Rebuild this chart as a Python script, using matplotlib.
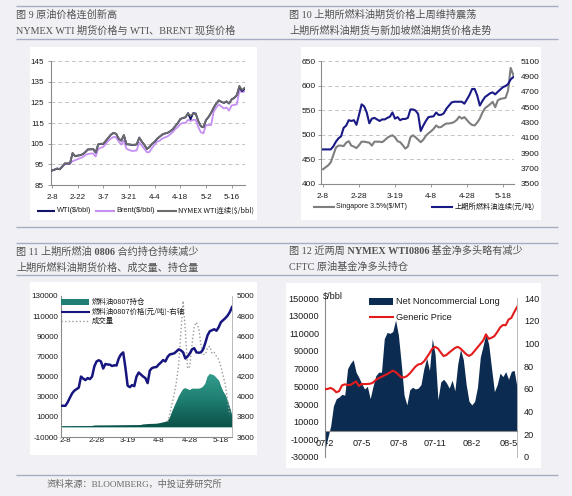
import numpy as np
import matplotlib
matplotlib.use('Agg')
import matplotlib.pyplot as plt
from matplotlib.colors import LinearSegmentedColormap
from matplotlib.patches import Rectangle

# ---------------- data ----------------
# Fig 9: crude prices (USD/bbl), trading days 2-8 .. late May
dates1 = ['2-8', '2-22', '3-7', '3-21', '4-4', '4-18', '5-2', '5-16']
names1 = ['WTI($/bbl)', 'Brent($/bbl)', 'NYMEX WTI连续($/bbl)']
nymex = [92, 92.5, 93, 92.7, 94, 95.5, 95.5, 95.5, 100.5, 99,
         99.3, 99.5, 100, 101, 102.3, 102.3, 102.5, 100.8, 104.7, 105,
         105, 106.5, 108, 109.5, 110.3, 109.8, 107.5, 106.5, 109.2, 104.8,
         104.7, 104.5, 104.5, 104.7, 108, 106, 104.5, 102.5, 103.5, 105,
         106, 107.5, 108.5, 109.5, 110, 110.3, 111, 112, 113.5, 115,
         117, 117.5, 117.8, 119.5, 118.5, 119.5, 119.3, 116, 113.5, 113,
         116.5, 118, 120, 122.5, 124.5, 126, 125.3, 124.8, 125.5, 124.5,
         126.5, 127.2, 128.5, 133, 131, 132]
wti = [92, 92.4, 92.9, 92.6, 93.9, 95.4, 95.4, 95.4, 100.4, 98.9,
       99.2, 99.4, 99.9, 100.9, 102.2, 102.2, 102.4, 100.7, 104.6, 104.9,
       104.9, 106.4, 107.9, 109.4, 110.2, 109.7, 107.4, 106.4, 109.1, 104.7,
       104.6, 104.4, 104.4, 104.6, 107.9, 105.9, 104.4, 102.4, 103.4, 104.9,
       105.9, 107.4, 108.4, 109.4, 109.9, 110.2, 110.9, 111.9, 113.4, 114.9,
       116.9, 117.4, 117.7, 119.8, 116.8, 119.8, 119.6, 115.9, 113.4, 112.9,
       116.4, 117.9, 119.9, 122.4, 124.4, 125.9, 125.2, 124.7, 125.4, 124.4,
       126.4, 127.1, 128.4, 132.4, 130.4, 131.4]
brent = [92, 92.5, 93, 92.7, 94, 95, 95.3, 95.3, 96.5, 97,
         97.5, 98, 98.5, 99.5, 100, 100.2, 100.3, 98.8, 102.5, 103,
         103.5, 105, 106.5, 107.5, 108.3, 108, 106, 104.5, 106.5, 102.5,
         102, 101.5, 101.5, 101.8, 105.5, 104, 102.5, 100.8, 101, 103,
         104.5, 106, 106.5, 107.5, 108, 108.5, 109.5, 110.5, 112, 113,
         114.5, 115, 115, 116.5, 116, 116.5, 116.5, 113, 110.5, 110,
         114, 114, 114, 120.5, 122.5, 124, 123, 122, 122.5, 121,
         123.5, 123.8, 124, 130.5, 130, 130.2]

# Fig 10: Singapore 3.5% (USD/MT, left) and SHFE fuel oil (CNY/t, right)
dates2 = ['2-8', '2-28', '3-19', '4-8', '4-28', '5-18']
names2 = ['Singapore 3.5%($/MT)', '上期所燃料油连续(元/吨)']
sing = [430, 434, 438, 444, 459, 474, 478, 478, 477, 484,
        487, 478, 476, 473, 479, 486, 486, 485, 484, 478,
        486, 486, 486, 485, 489, 494, 497, 499, 495, 487,
        485, 479, 472, 476, 495, 499, 495, 490, 485, 490,
        498, 503, 507, 512, 519, 515, 516, 520, 523, 523,
        524, 526, 530, 537, 533, 536, 530, 524, 520, 519,
        525, 533, 545, 554, 558, 562, 567, 556, 570, 573,
        574, 575, 590, 636, 622]
shfe = [3950, 3950, 3950, 3950, 3990, 4050, 4094, 4120, 4230, 4260,
        4330, 4320, 4330, 4270, 4400, 4536, 4510, 4430, 4290, 4350,
        4360, 4340, 4320, 4340, 4340, 4360, 4375, 4430, 4350, 4370,
        4330, 4346, 4346, 4360, 4470, 4470, 4455, 4410, 4190, 4260,
        4320, 4370, 4376, 4380, 4430, 4398, 4400, 4420, 4480, 4520,
        4560, 4570, 4570, 4570, 4570, 4545, 4600, 4660, 4736, 4736,
        4650, 4520, 4580, 4630, 4655, 4680, 4692, 4666, 4700, 4730,
        4760, 4775, 4800, 4860, 4890]

# Fig 11: SHFE fuel oil 0807 open interest, price (right axis), volume
dates3 = ['2-8', '2-28', '3-19', '4-8', '4-28', '5-18']
names3 = ['燃料油0807持仓', '燃料油0807价格(元/吨)-右轴', '成交量']
oi = [700, 750, 800, 800, 800, 800, 850, 850, 850, 850,
      900, 900, 900, 900, 950, 1400, 1450, 1500, 1500, 1500,
      1500, 1500, 1550, 1550, 1600, 1600, 1600, 1650, 1650, 1700,
      1700, 1750, 1750, 1800, 1800, 1850, 1900, 2500, 2600, 2800,
      3000, 3000, 3100, 3200, 3500, 4000, 4500, 5000, 6000, 9000,
      15000, 20000, 25000, 30000, 34000, 37500, 38500, 37500, 36500, 38000,
      38000, 38000, 38000, 38500, 40000, 43000, 50000, 52500, 52000, 51000,
      48500, 46000, 40000, 35000, 31700, 26000, 19000, 11000]
price3 = [3910, 3910, 3910, 3945, 3990, 4033, 4060, 4075, 4090, 4200,
          4180, 4165, 4185, 4175, 4200, 4300, 4350, 4362, 4350, 4280,
          4325, 4320, 4318, 4305, 4312, 4310, 4380, 4420, 4440, 4290,
          4110, 4095, 4115, 4105, 4200, 4240, 4220, 4200, 4185, 4135,
          4260, 4285, 4292, 4295, 4320, 4340, 4364, 4350, 4395, 4420,
          4425, 4431, 4450, 4470, 4460, 4440, 4380, 4400, 4430, 4470,
          4482, 4440, 4437, 4440, 4470, 4535, 4610, 4650, 4660, 4670,
          4655, 4690, 4740, 4760, 4780, 4805, 4840, 4890]
nan = float('nan')
vol = [nan, nan, nan, nan, nan, nan, nan, nan, nan, nan,
       nan, nan, nan, nan, nan, nan, nan, nan, nan, nan,
       nan, nan, nan, nan, nan, nan, nan, nan, nan, nan,
       nan, nan, nan, nan, nan, nan, nan, nan, nan, nan,
       nan, nan, nan, nan, nan, nan, nan, nan, 5000, 13000,
       23000, 33000, 45000, 62000, 95000, 125000, 95000, 58000, 60000, 82000,
       100000, 104000, 98000, 82000, 72000, 72000, 79000, 80000, 73000, 74000,
       70000, 67000, 60000, 51000, 42000, 26000, 12000, nan]

# Fig 12: CFTC net non-commercial long (left) and generic price (right)
dates4 = ['07-2', '07-5', '07-8', '07-11', '08-2', '08-5']
names4 = ['Net Noncommercial Long', 'Generic Price']
net = [-22000, -8000, 5000, 28000, 36000, 38000, 41000, 40000, 70000, 76000,
       80000, 66000, 60000, 53000, 47000, 50000, 36000, 50000, 62000, 66000,
       66000, 104000, 111000, 110000, 112000, 125000, 108000, 76000, 40000, 29000,
       46000, 49000, 47000, 48000, 52000, 70000, 82000, 68000, 104000, 86000,
       35000, 55000, 58000, 54000, 48000, 57000, 45000, 75000, 92000, 80000,
       52000, 33000, 29000, 33000, 49000, 83000, 96000, 110000, 97000, 70000,
       44000, 52000, 65000, 61000, 66600, 58000, 67000, 68000, 49000]
price4 = [59.6, 60, 60.8, 59.5, 57, 58, 63, 64, 63.4, 63.4,
          65, 66.5, 62.5, 64.3, 64.2, 64.3, 64.5, 65.5, 67.8, 69.5,
          70.5, 71.8, 73, 74.5, 76, 74.8, 72.5, 70.2, 70.1, 71.2,
          73.5, 76.5, 79.5, 81.5, 81.9, 84, 87.5, 91.3, 95.5, 97,
          95.5, 92, 88.9, 89.8, 92, 94, 96, 97, 95.5, 93,
          90.5, 89, 90.5, 93.5, 96.5, 99.5, 102.5, 108, 104, 105,
          106.5, 110, 114, 116.2, 116, 121, 122.5, 127.5, 132]

titles = [
    [('图 9 原油价格连创新高', 'normal')],
    [('图 10 上期所燃料油期货价格上周维持震荡', 'normal')],
    [('图 11 上期所燃油', 'normal'), (' 0806', 'bold'), (' 合约持仓持续减少', 'normal')],
    [('图 12 近两周', 'normal'), (' NYMEX WTI0806', 'bold'), (' 基金净多头略有减少', 'normal')],
]
subtitles = ['NYMEX WTI 期货价格与 WTI、BRENT 现货价格',
             '上期所燃料油期货与新加坡燃油期货价格走势',
             '上期所燃料油期货价格、成交量、持仓量',
             'CFTC 原油基金净多头持仓']
source = '资料来源：BLOOMBERG，中投证券研究所'

# ---------------- figure ----------------
W, H = 572, 496
fig = plt.figure(figsize=(W / 100, H / 100), dpi=100)
BG = '#f1f1f5'
fig.patch.set_facecolor(BG)

SANS = ['Liberation Sans', 'Noto Sans CJK SC', 'DejaVu Sans']
SERIF = ['Liberation Serif', 'Noto Sans CJK SC', 'DejaVu Sans']
CJK = ['Noto Sans CJK SC', 'DejaVu Sans']
plt.rcParams['font.family'] = SANS
plt.rcParams['axes.unicode_minus'] = False
TXT = '#1a1a1a'
SPINE = '#8a8a8a'


def pxax(l, t, r, b, **kw):
    return fig.add_axes([l / W, 1 - b / H, (r - l) / W, (b - t) / H], **kw)


bg = pxax(0, 0, W, H, zorder=-5)
bg.set_xlim(0, W); bg.set_ylim(H, 0); bg.axis('off')
ov = pxax(0, 0, W, H, zorder=10)
ov.set_xlim(0, W); ov.set_ylim(H, 0); ov.axis('off')

# white chart panels
for (l, t, r, b) in [(30, 47, 257, 220), (301, 47, 541, 220),
                     (30, 282, 257, 455), (286, 283, 541, 468)]:
    bg.add_patch(Rectangle((l, t), r - l, b - t, fc='white', ec='none'))
# separator lines
for y in [6, 39, 227, 243, 275, 475]:
    bg.plot([16, 558], [y, y], color='#a7abc4', lw=1.0, solid_capstyle='butt')


def rich(x, y, parts, size=7.3, color='#505050'):
    t = bg.text(x, y, parts[0][0], fontsize=size, color=color, fontweight=parts[0][1],
                family=SERIF, va='center', ha='left')
    for s, w in parts[1:]:
        t = bg.annotate(s, xy=(1, 0), xycoords=t, va='bottom', ha='left', fontsize=size,
                        color=color, fontweight=w, family=SERIF)


for (x, y), parts in zip([(16, 15), (289, 15), (16, 252), (289, 251)], titles):
    rich(x, y, parts)
for (x, y), s in zip([(16, 31), (289, 31), (16, 268), (289, 267)], subtitles):
    rich(x, y, [(s, 'normal')])
bg.text(47, 484, source, fontsize=6.6, color='#666666', family=SERIF, va='center', ha='left')


def style(ax, size):
    for s in ['top', 'right']:
        ax.spines[s].set_visible(False)
    for s in ['left', 'bottom']:
        ax.spines[s].set_color(SPINE)
        ax.spines[s].set_linewidth(0.8)
    ax.tick_params(colors=SPINE, labelcolor=TXT, labelsize=size, width=0.6)
    ax.set_facecolor('none')


def leg_line(x0, x1, y, label, size, **kw):
    ov.plot([x0, x1], [y, y], solid_capstyle='butt', **kw)
    ov.text(x1 + 1.5, y, label, fontsize=size, color=TXT, va='center', ha='left',
            family=SANS if label.isascii() else CJK)


# ---- Panel 1 ----
a1 = pxax(51, 61, 245, 185)
style(a1, 5.8)
x1 = np.arange(len(nymex))
C_WTI, C_BR, C_NY = '#121266', '#c690f2', '#6c6c6c'
a1.plot(x1, wti, color=C_WTI, lw=1.3, zorder=3)
a1.plot(x1, brent, color=C_BR, lw=1.3, zorder=2)
a1.plot(x1, nymex, color=C_NY, lw=1.3, zorder=4)
a1.set_ylim(85, 145)
a1.set_yticks(np.arange(85, 146, 10))
a1.set_xlim(-0.4, 75.2)
a1.set_xticks(np.arange(0, 71, 10))
a1.set_xticklabels(dates1)
a1.yaxis.grid(True, ls=(0, (4, 3)), color='#c4c4c4', lw=0.7)
a1.set_axisbelow(True)
a1.tick_params(axis='y', length=2, pad=3)
a1.tick_params(axis='x', length=2, pad=4.5)
leg_line(37, 55, 211, names1[0], 5.3, color=C_WTI, lw=1.5)
leg_line(95, 115, 211, names1[1], 5.3, color=C_BR, lw=1.5)
leg_line(157, 177, 211, names1[2], 5.3, color=C_NY, lw=1.5)

# ---- Panel 2 ----
a2 = pxax(321, 61, 514, 184)
style(a2, 6.0)
x2 = np.arange(len(sing))
C_SG, C_SH = '#7e7e7e', '#1a1a86'
a2.plot(x2, sing, color=C_SG, lw=1.5, zorder=2)
a2.set_ylim(400, 650)
a2.set_yticks(np.arange(400, 651, 50))
a2.set_xlim(-0.8, 74.3)
a2.set_xticks(np.arange(0, 71, 14))
a2.set_xticklabels(dates2)
a2.yaxis.grid(True, ls=(0, (4, 3)), color='#c4c4c4', lw=0.7)
a2.set_axisbelow(True)
a2.tick_params(axis='y', length=2, pad=2)
a2.tick_params(axis='x', length=2, pad=4.5)
a2r = a2.twinx()
a2r.plot(x2, shfe, color=C_SH, lw=1.5, zorder=3)
a2r.set_ylim(3500, 5100)
a2r.set_yticks(np.arange(3500, 5101, 200))
for s in a2r.spines.values():
    s.set_visible(False)
a2r.tick_params(axis='y', length=0, pad=5, labelsize=6.0, labelcolor=TXT)
leg_line(313, 335, 207, names2[0], 5.0, color=C_SG, lw=1.5)
leg_line(431, 453, 207, names2[1], 5.2, color=C_SH, lw=1.5)

# ---- Panel 3 ----
a3 = pxax(61, 296, 232, 437)
style(a3, 5.8)
a3.spines['right'].set_visible(True)
a3.spines['right'].set_color('#b0b0b0')
a3.spines['right'].set_linewidth(0.6)
x3 = np.arange(len(oi))
C_TEAL, C_P3, C_VOL = '#1e7f72', '#16167e', '#9a9a9a'
area = a3.fill_between(x3, 0, oi, color=C_TEAL, lw=0, zorder=1)
cmap = LinearSegmentedColormap.from_list('teal', ['#0b5048', '#1f7f72', '#35a08f'])
grad = a3.imshow(np.linspace(0, 1, 256).reshape(-1, 1), extent=[0, 77, 0, 55000],
                 origin='lower', cmap=cmap, aspect='auto', zorder=1.1)
grad.set_clip_path(area.get_paths()[0], transform=a3.transData)
a3.plot(x3, vol, color=C_VOL, lw=1.0, ls=(0, (1, 1.6)), zorder=2)
a3.set_ylim(-10000, 130000)
a3.set_yticks(np.arange(-10000, 130001, 20000))
a3.set_xlim(0, 77)
a3.set_xticks(np.arange(2, 73, 14))
a3.set_xticklabels(dates3)
a3.tick_params(axis='y', length=0, pad=2)
a3.tick_params(axis='x', length=0, pad=0)
a3r = a3.twinx()
a3r.plot(x3, price3, color=C_P3, lw=1.8, zorder=3)
a3r.set_ylim(3600, 5000)
a3r.set_yticks(np.arange(3600, 5001, 200))
for s in a3r.spines.values():
    s.set_visible(False)
a3r.tick_params(axis='y', length=0, pad=3.5, labelsize=5.8, labelcolor=TXT)
ov.add_patch(Rectangle((61, 299), 28, 6, fc=C_TEAL, ec='none'))
ov.text(92, 302, names3[0], fontsize=5.3, color=TXT, va='center', ha='left', family=CJK)
leg_line(61, 90, 312, names3[1], 5.3, color=C_P3, lw=1.5)
leg_line(61, 90, 321, names3[2], 5.3, color=C_VOL, lw=1.0, ls=(0, (1, 1.6)))

# ---- Panel 4 ----
a4 = pxax(325, 298, 517, 457)
style(a4, 6.6)
a4.spines['right'].set_visible(True)
a4.spines['right'].set_color('#b0b0b0')
a4.spines['right'].set_linewidth(0.6)
x4 = np.arange(len(net))
C_NAVY, C_RED = '#0c2b50', '#e31b1b'
a4.fill_between(x4, 0, net, color=C_NAVY, lw=0, zorder=1)
a4.set_ylim(-30000, 150000)
a4.set_yticks(np.arange(-30000, 150001, 20000))
a4.set_xlim(0, 68)
a4.set_xticks(np.arange(0, 66, 13))
a4.set_xticklabels(dates4)
a4.spines['bottom'].set_position(('data', 0))
a4.tick_params(axis='y', length=0, pad=4.3)
a4.tick_params(axis='x', length=0, pad=6)
a4r = a4.twinx()
a4r.plot(x4, price4, color=C_RED, lw=1.5, zorder=3)
a4r.set_ylim(0, 140)
a4r.set_yticks(np.arange(0, 141, 20))
for s in a4r.spines.values():
    s.set_visible(False)
a4r.tick_params(axis='y', length=0, pad=5, labelsize=6.6, labelcolor=TXT)
ov.add_patch(Rectangle((369, 298), 24, 7, fc=C_NAVY, ec='none'))
ov.text(396, 301.5, names4[0], fontsize=6.6, color=TXT, va='center', ha='left', family=SANS)
leg_line(369, 394, 317, names4[1], 6.6, color=C_RED, lw=1.5)
ov.text(323, 297, '$/bbl', fontsize=6.6, color=TXT, va='center', ha='left', family=SANS)

fig.savefig('out.png', dpi=100, facecolor=BG)
